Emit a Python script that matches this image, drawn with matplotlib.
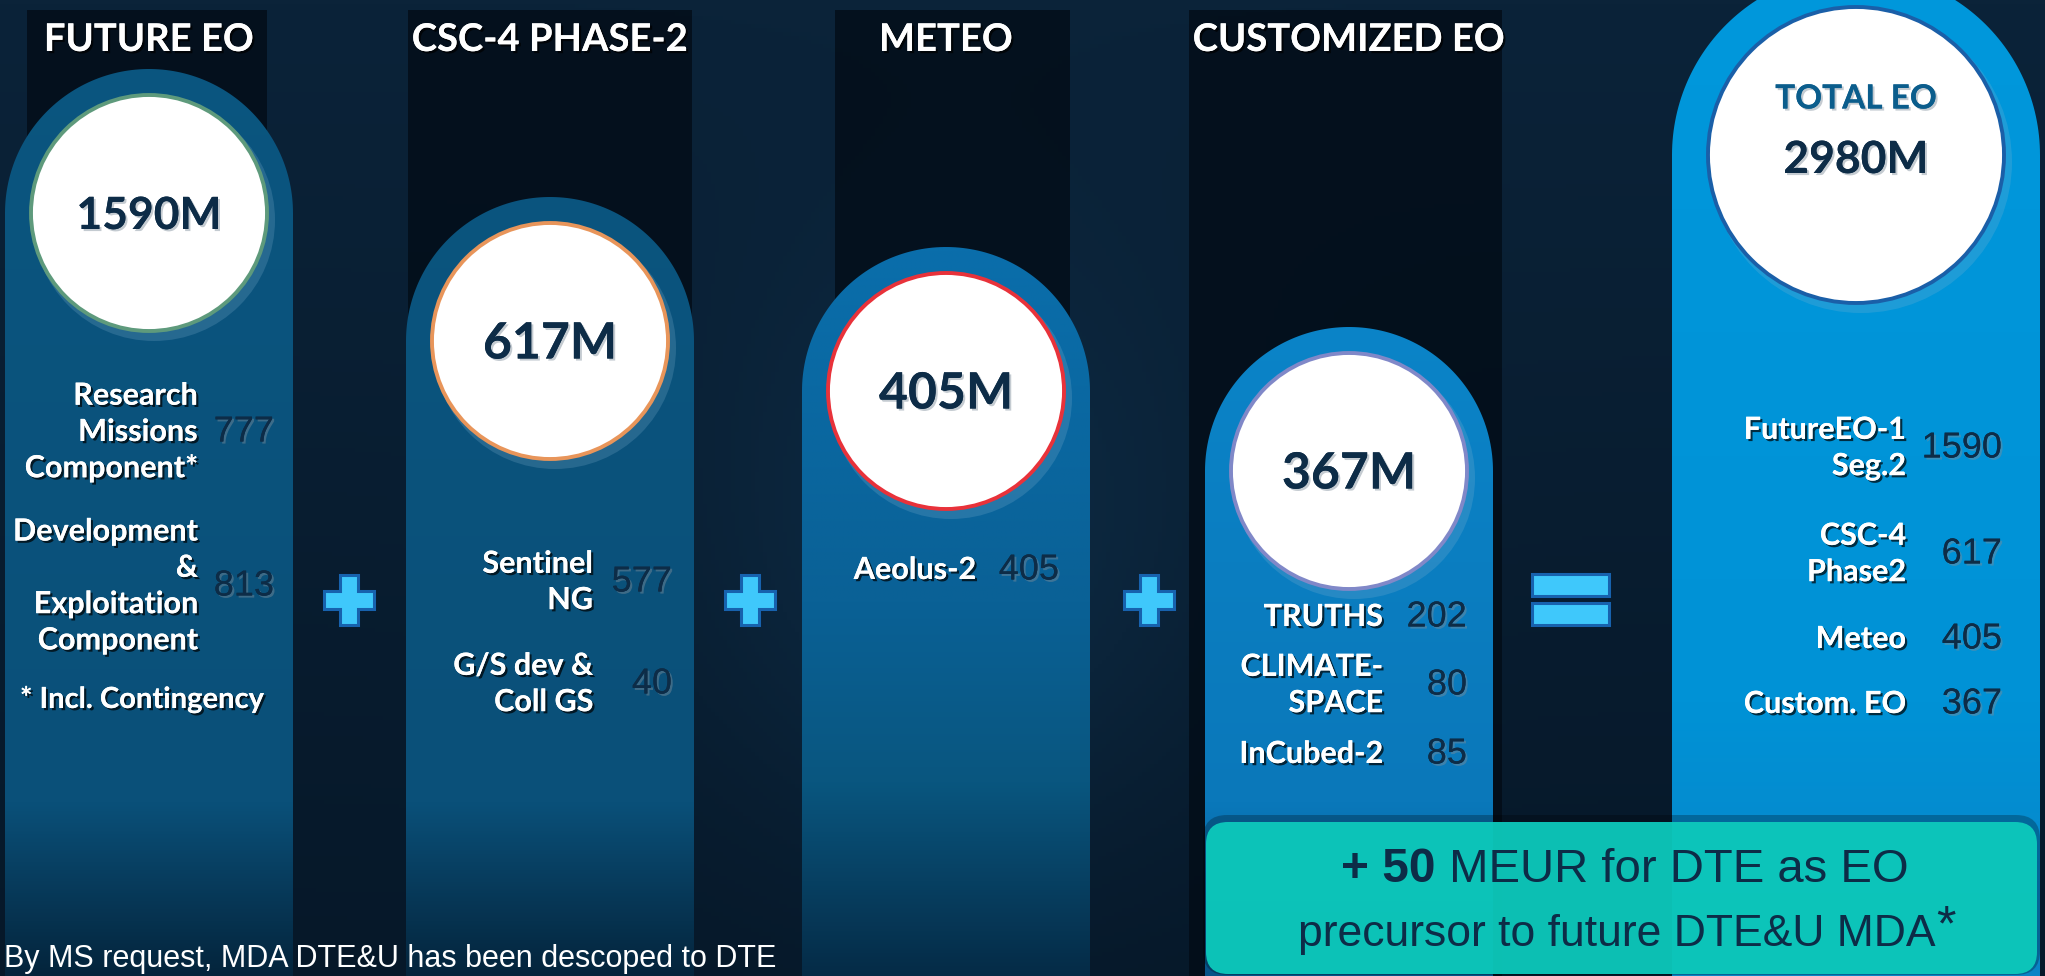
import numpy as np
import matplotlib
matplotlib.use('Agg')
import matplotlib.pyplot as plt
import matplotlib.patheffects as pe
from matplotlib.patches import Circle, Polygon, Rectangle, FancyBboxPatch
from matplotlib.colors import to_rgb

# ---- data ----
titles = ['FUTURE EO', 'CSC-4 PHASE-2', 'METEO', 'CUSTOMIZED EO']
totals = [1590, 617, 405, 367]
item_labels = [
    ['Research\nMissions\nComponent*', 'Development\n&\nExploitation\nComponent'],
    ['Sentinel\nNG', 'G/S dev &\nColl GS'],
    ['Aeolus-2'],
    ['TRUTHS', 'CLIMATE-\nSPACE', 'InCubed-2'],
]
item_values = [[777, 813], [577, 40], [405], [202, 80, 85]]
total_title = 'TOTAL EO'
grand_total = 2980
total_labels = ['FutureEO-1\nSeg.2', 'CSC-4\nPhase2', 'Meteo', 'Custom. EO']
total_values = [1590, 617, 405, 367]
col1_note = '* Incl. Contingency'
box_bold = '+ 50'
box_line1 = ' MEUR for DTE as EO'
box_line2 = 'precursor to future DTE&U MDA'
bottom_note = 'By MS request, MDA DTE&U has been descoped to DTE'

# ---- layout (pixels) ----
W, H = 2045, 976
col_x = [149, 550, 946, 1349]
col_y = [213, 341, 391, 471]
R_PIL, R_CIR = 144, 118
rim = ['#5e9a7c', '#e8955a', '#e8323a', '#8088c8']
pil_stops = [
    [(0, '#0b5680'), (800, '#0a5079'), (976, '#04233a')],
    [(0, '#0b5680'), (800, '#0a5079'), (976, '#04233a')],
    [(250, '#0a6eab'), (600, '#0a6196'), (780, '#09567f'), (976, '#052a45')],
    [(320, '#0b84c8'), (800, '#0a78ba'), (976, '#075286')],
]
bands = [(27, 267), (408, 692), (835, 1070), (1189, 1502)]
lab_right = [198, 593, 976, 1383]
val_right = [274, 672, 1059, 1467]
item_y = [[432, 586], [582, 684], [570], [617, 685, 754]]
plus_xy = [(349, 600), (750, 600), (1149, 600)]
tot_x, tot_y, tot_R, tot_r = 1856, 155, 184, 148
tot_lab_right, tot_val_right = 1906, 2002
tot_item_y = [448, 554, 639, 704]

BOLD = ['Lato', 'DejaVu Sans']
REG = ['Liberation Sans', 'DejaVu Sans']
NAVY = '#0d2c47'

fig = plt.figure(figsize=(W / 100, H / 100), dpi=100)
ax = fig.add_axes([0, 0, 1, 1])
ax.set_xlim(0, W)
ax.set_ylim(H, 0)
ax.axis('off')

# background: dark navy with a faint lighter haze
yy, xx = np.mgrid[0:H:4, 0:W:4]
base = np.array(to_rgb('#0b2339'))
dark = np.array(to_rgb('#061829'))
t = (yy / H)[..., None]
bg = base * (1 - t) + dark * t
haze = np.exp(-(((xx - 960) / 260.0) ** 2 + ((yy - 560) / 300.0) ** 2))[..., None]
bg = np.clip(bg + haze * np.array([0.02, 0.05, 0.07]), 0, 1)
ax.imshow(bg, extent=(0, W, H, 0), aspect='auto', zorder=0)

for x0, x1 in bands:
    ax.add_patch(Rectangle((x0, 10), x1 - x0, H, fc='#020b15', alpha=0.75, ec='none', zorder=1))

shadow_dark = [pe.withSimplePatchShadow(offset=(1.6, -1.6), shadow_rgbFace='#000000', alpha=0.7), pe.Normal()]
shadow_light = [pe.withSimplePatchShadow(offset=(1.5, -1.5), shadow_rgbFace='#7d8c99', alpha=0.45), pe.Normal()]


def grad_column(stops, y0, n=300):
    ys = np.linspace(y0, H, n)
    cols = np.array([to_rgb(c) for _, c in stops])
    sy = [s for s, _ in stops]
    arr = np.stack([np.interp(ys, sy, cols[:, k]) for k in range(3)], axis=-1)
    return arr[:, None, :]


def pillar(cx, cy, R, stops, z=2):
    th = np.linspace(np.pi, 0, 120)
    pts = np.column_stack([cx + R * np.cos(th), cy - R * np.sin(th)])
    pts = np.vstack([pts, [cx + R, H + 5], [cx - R, H + 5]])
    poly = Polygon(pts, closed=True, fc='none', ec='none', zorder=z)
    ax.add_patch(poly)
    top = cy - R
    im = ax.imshow(grad_column(stops, top), extent=(cx - R, cx + R, H + 5, top),
                   aspect='auto', interpolation='bilinear', zorder=z)
    im.set_clip_path(poly)


def disc(cx, cy, r, edge):
    ax.add_patch(Circle((cx + 5, cy + 7), r + 3, fc='#8ab8d4', alpha=0.22, ec='none', zorder=3))
    ax.add_patch(Circle((cx, cy), r, fc='white', ec=edge, lw=2.8, zorder=4))


def label_pair(xl, xv, y, lab, val):
    ax.text(xl, y, lab, ha='right', va='center', multialignment='right',
            color='white', fontsize=22, fontweight='bold', family=BOLD,
            linespacing=1.36, path_effects=shadow_dark, zorder=6)
    ax.text(xv, y, str(val), ha='right', va='center', color=NAVY,
            fontsize=26, family=REG, path_effects=shadow_light, zorder=6)


# four component columns
for i in range(4):
    cx, cy = col_x[i], col_y[i]
    pillar(cx, cy, R_PIL, pil_stops[i])
    disc(cx, cy, R_CIR, rim[i])
    ax.text(cx, 40, titles[i], ha='center', va='center', color='white', fontsize=27.5,
            fontweight='bold', family=BOLD, path_effects=shadow_dark, zorder=6)
    fs = 32 if totals[i] >= 1000 else 36
    ax.text(cx, cy + 3, f'{totals[i]}M', ha='center', va='center', color=NAVY, fontsize=fs,
            fontweight='bold', family=BOLD, path_effects=shadow_light, zorder=6)
    for lab, val, y in zip(item_labels[i], item_values[i], item_y[i]):
        label_pair(lab_right[i], val_right[i], y, lab, val)

ax.text(20, 700, col1_note, ha='left', va='center', color='white', fontsize=21,
        fontweight='bold', family=BOLD, path_effects=shadow_dark, zorder=6)

# plus signs
a, h = 25, 9
for px, py in plus_xy:
    cross = [(px - h, py - a), (px + h, py - a), (px + h, py - h), (px + a, py - h),
             (px + a, py + h), (px + h, py + h), (px + h, py + a), (px - h, py + a),
             (px - h, py + h), (px - a, py + h), (px - a, py - h), (px - h, py - h)]
    ax.add_patch(Polygon(cross, closed=True, fc='#3fc8fb', ec='#1762ae', lw=2.2, zorder=6))

# equal sign
for y0 in (574, 603):
    ax.add_patch(Rectangle((1532, y0), 77, 22, fc='#3fc8fb', ec='#1762ae', lw=2.2, zorder=6))

# total column
pillar(tot_x, tot_y, tot_R, [(-40, '#0098dc'), (700, '#0092d6'), (976, '#0a84c6')])
disc(tot_x, tot_y, tot_r, '#1a5fa8')
ax.text(tot_x, 99, total_title, ha='center', va='center', color='#0b5d8c', fontsize=24,
        fontweight='bold', family=BOLD, path_effects=shadow_light, zorder=6)
ax.text(tot_x, 160, f'{grand_total}M', ha='center', va='center', color=NAVY, fontsize=32,
        fontweight='bold', family=BOLD, path_effects=shadow_light, zorder=6)
for lab, val, y in zip(total_labels, total_values, tot_item_y):
    label_pair(tot_lab_right, tot_val_right, y, lab, val)

# teal call-out box
ax.add_patch(FancyBboxPatch((1203, 815), 837, 160, boxstyle='round,pad=0,rounding_size=24',
                            fc='black', alpha=0.25, ec='none', zorder=7))
ax.add_patch(FancyBboxPatch((1206, 822), 831, 152, boxstyle='round,pad=0,rounding_size=22',
                            fc='#0dcabc', alpha=0.95, ec='none', zorder=8))

fig.canvas.draw()
r = fig.canvas.get_renderer()
t1 = ax.text(0, 882, box_bold, ha='left', va='baseline', color=NAVY, fontsize=34.5,
             fontweight='bold', family=REG, zorder=9)
t2 = ax.text(0, 882, box_line1, ha='left', va='baseline', color=NAVY, fontsize=34,
             family=REG, zorder=9)
w1 = t1.get_window_extent(r).width
w2 = t2.get_window_extent(r).width
x0 = 1625 - (w1 + w2) / 2
t1.set_x(x0)
t2.set_x(x0 + w1)
t3 = ax.text(0, 946, box_line2, ha='left', va='baseline', color=NAVY, fontsize=32,
             family=REG, zorder=9)
t4 = ax.text(0, 940, '*', ha='left', va='baseline', color=NAVY, fontsize=36,
             family=REG, zorder=9)
w3 = t3.get_window_extent(r).width
w4 = t4.get_window_extent(r).width
x0 = 1626 - (w3 + w4) / 2
t3.set_x(x0)
t4.set_x(x0 + w3 + 1)

ax.text(4, 967, bottom_note, ha='left', va='baseline', color='white', fontsize=22,
        family=REG, zorder=9)

fig.savefig('out.png', dpi=100)
